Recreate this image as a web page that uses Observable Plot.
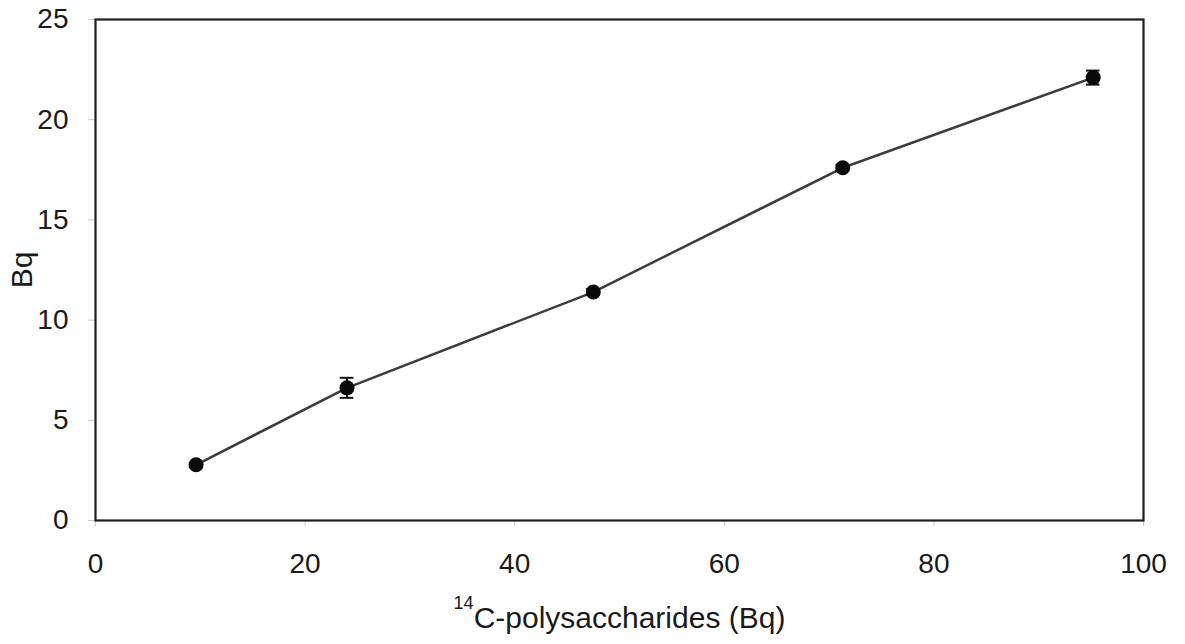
<!DOCTYPE html>
<html>
<head>
<meta charset="utf-8">
<script src="https://cdn.jsdelivr.net/npm/d3@7"></script>
<script src="https://cdn.jsdelivr.net/npm/@observablehq/plot@0.6"></script>
<style>
  html, body { margin: 0; padding: 0; background: #fff; }
  #chart { width: 1185px; height: 644px; }
  svg { font-family: "Liberation Sans", Arial, sans-serif; }
</style>
</head>
<body>
<div id="chart"></div>
<script>
// Added 14C-polysaccharide activity vs. recovered activity (Bq), mean ± error
const added = [9.6, 24.0, 47.5, 71.3, 95.2];
const recovered = [2.78, 6.62, 11.4, 17.6, 22.1];
const errors = [0.1, 0.5, 0.15, 0.15, 0.35];
const xTicks = [0, 20, 40, 60, 80, 100];
const yTicks = [0, 5, 10, 15, 20, 25];
const xLabelSup = "14";
const xLabelMain = "C-polysaccharides (Bq)";
const yLabel = "Bq";

const rows = added.map((x, i) => ({x, y: recovered[i], e: errors[i]}));
const capHalf = 0.65; // half-width of error-bar caps, in x units

const chart = Plot.plot({
  width: 1185,
  height: 644,
  marginLeft: 95,
  marginRight: 42,
  marginTop: 19,
  marginBottom: 124,
  style: {fontFamily: "'Liberation Sans', Arial, sans-serif", background: "#fff"},
  x: {domain: [0, 100]},
  y: {domain: [0, 25]},
  marks: [
    Plot.axisX(xTicks, {tickSize: 6, tickPadding: 27, stroke: "#c8c8c8", fill: "#1a1a1a", fontSize: 28, label: null}),
    Plot.axisY(yTicks, {tickSize: 7, tickPadding: 20, stroke: "#c8c8c8", fill: "#1a1a1a", fontSize: 28,
      label: null}),
    Plot.axisY({ticks: [], tickSize: 0, fill: "#1a1a1a", fontSize: 30,
      label: yLabel, labelAnchor: "center", labelArrow: "none", labelOffset: 85}),
    Plot.text([xLabelSup + xLabelMain], {frameAnchor: "bottom", lineAnchor: "bottom", dy: 100, fontSize: 30,
      fill: "#1a1a1a", className: "xlabel"}),
    Plot.frame({stroke: "#1e1e1e", strokeWidth: 2.2}),
    Plot.line(rows, {x: "x", y: "y", stroke: "#3c3c3c", strokeWidth: 2.5}),
    Plot.ruleX(rows, {x: "x", y1: d => d.y - d.e, y2: d => d.y + d.e, stroke: "#111", strokeWidth: 2}),
    Plot.ruleY(rows, {y: d => d.y + d.e, x1: d => d.x - capHalf, x2: d => d.x + capHalf, stroke: "#111", strokeWidth: 2}),
    Plot.ruleY(rows, {y: d => d.y - d.e, x1: d => d.x - capHalf, x2: d => d.x + capHalf, stroke: "#111", strokeWidth: 2}),
    Plot.dot(rows, {x: "x", y: "y", r: 7.5, fill: "#0a0a0a", stroke: "none"})
  ]
});

// Set the isotope mass number as a superscript in the x-axis title
d3.select(chart).selectAll(".xlabel text").each(function () {
  const t = d3.select(this);
  t.text(null);
  t.append("tspan").attr("font-size", 18).attr("dy", "-0.62em").text(xLabelSup);
  t.append("tspan").attr("dy", "0.62em").text(xLabelMain);
});

document.getElementById("chart").appendChild(chart);
</script>
</body>
</html>
